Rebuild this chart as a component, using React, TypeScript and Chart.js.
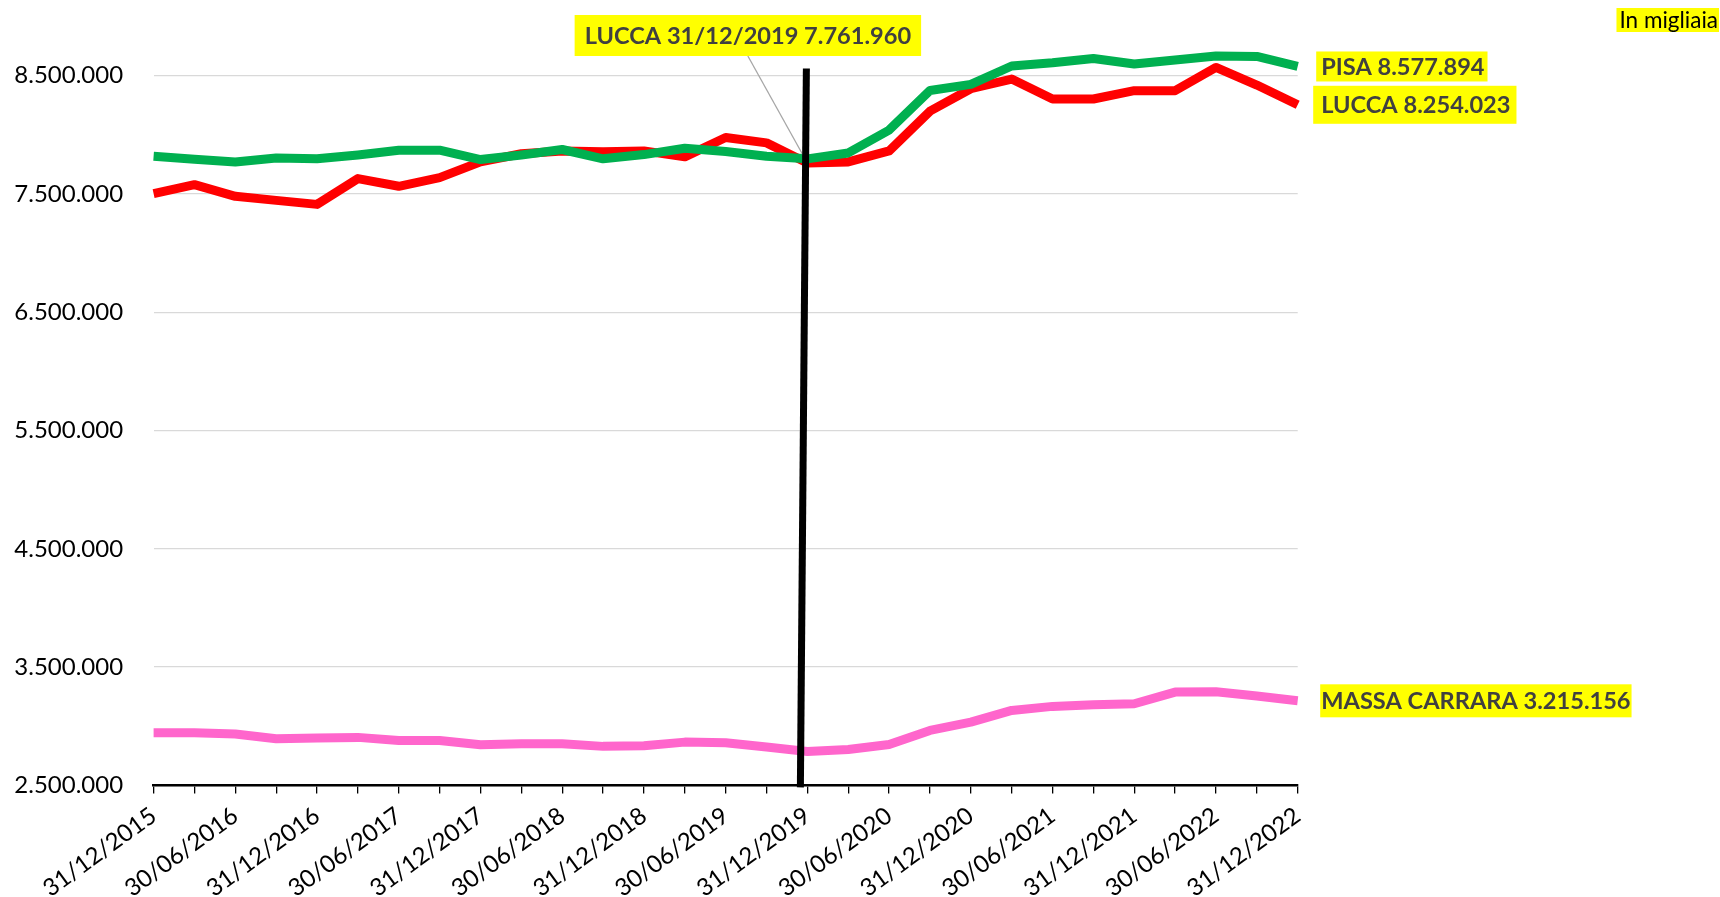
import React, { useEffect, useRef } from 'react';
import { Chart, registerables } from 'chart.js';

Chart.register(...registerables);

// ---------------- DATA ----------------
const categories = [
  '31/12/2015', '31/03/2016', '30/06/2016', '30/09/2016', '31/12/2016',
  '31/03/2017', '30/06/2017', '30/09/2017', '31/12/2017', '31/03/2018',
  '30/06/2018', '30/09/2018', '31/12/2018', '31/03/2019', '30/06/2019',
  '30/09/2019', '31/12/2019', '31/03/2020', '30/06/2020', '30/09/2020',
  '31/12/2020', '31/03/2021', '30/06/2021', '30/09/2021', '31/12/2021',
  '31/03/2022', '30/06/2022', '30/09/2022', '31/12/2022',
];

const pisa = [
  7819000, 7794000, 7771000, 7805000, 7797000, 7830000, 7870000, 7870000,
  7791000, 7830000, 7876000, 7797000, 7833000, 7887000, 7859000, 7819000,
  7797000, 7847000, 8040000, 8375000, 8427000, 8582000, 8610000, 8646000,
  8599000, 8632000, 8666000, 8663000, 8577894,
];

const lucca = [
  7503000, 7579000, 7480000, 7446000, 7412000, 7630000, 7565000, 7638000,
  7771000, 7840000, 7864000, 7856000, 7864000, 7814000, 7977000, 7932000,
  7761960, 7771000, 7864000, 8200000, 8390000, 8472000, 8303000, 8303000,
  8373000, 8373000, 8570000, 8421000, 8254023,
];

const massaCarrara = [
  2945000, 2945000, 2934000, 2894000, 2900000, 2906000, 2880000, 2880000,
  2844000, 2852000, 2852000, 2830000, 2835000, 2866000, 2860000, 2824000,
  2787000, 2804000, 2846000, 2965000, 3035000, 3134000, 3168000, 3182000,
  3190000, 3289000, 3292000, 3255000, 3215156,
];

const seriesNames = ['PISA', 'LUCCA', 'MASSA CARRARA'];
const yTickValues = [2500000, 3500000, 4500000, 5500000, 6500000, 7500000, 8500000];
const Y_MIN = 2500000;
const Y_MAX = 9000000;
const highlightIndex = 16; // 31/12/2019
const markerTopValue = 8560000;
const unitNote = 'In migliaia';

// ---------------- STYLE ----------------
const FONT = "Lato, 'Noto Sans', sans-serif";
const COLORS = { pisa: '#00B050', lucca: '#FF0000', massa: '#FF66CC' };
const LABEL_BG = '#FFFF00';
const LABEL_TEXT = '#404040';
const LABEL_FONT_SIZE = 23.6;

function fmt(v: number): string {
  return Math.round(v).toString().replace(/\B(?=(\d{3})+(?!\d))/g, '.');
}

const endLabelStyles = [
  { padL: 5, padR: 3, h: 30 },
  { padL: 8, padR: 6, h: 38 },
  { padL: 1, padR: 1, h: 33 },
];

const annotationPlugin = {
  id: 'customAnnotations',
  afterDatasetsDraw(chart: any) {
    const ctx: CanvasRenderingContext2D = chart.ctx;
    const xs = chart.scales.x;
    const ys = chart.scales.y;
    ctx.save();

    // Callout for LUCCA at highlight index
    const luccaMeta = chart.getDatasetMeta(1);
    const hp = luccaMeta.data[highlightIndex];
    const calloutText = `LUCCA ${categories[highlightIndex]} ${fmt(lucca[highlightIndex])}`;
    ctx.font = `bold ${LABEL_FONT_SIZE}px ${FONT}`;
    const cw = ctx.measureText(calloutText).width;
    const boxW = cw + 20;
    const boxH = 41;
    const boxCx = hp.x - 59.5;
    const boxBottom = hp.y - 107;
    const boxTop = boxBottom - boxH;

    // leader line
    ctx.strokeStyle = '#A6A6A6';
    ctx.lineWidth = 1.3;
    ctx.beginPath();
    ctx.moveTo(boxCx, boxBottom);
    ctx.lineTo(hp.x, hp.y);
    ctx.stroke();

    ctx.fillStyle = LABEL_BG;
    ctx.fillRect(boxCx - boxW / 2, boxTop, boxW, boxH);
    ctx.fillStyle = LABEL_TEXT;
    ctx.textAlign = 'center';
    ctx.textBaseline = 'middle';
    ctx.fillText(calloutText, boxCx, boxTop + boxH / 2 + 1);

    // black vertical marker line
    const xTop = xs.getPixelForValue(highlightIndex) - 1;
    const yTop = ys.getPixelForValue(markerTopValue);
    const yBot = ys.getPixelForValue(Y_MIN) + 2;
    ctx.strokeStyle = '#000000';
    ctx.lineWidth = 7;
    ctx.lineCap = 'butt';
    ctx.beginPath();
    ctx.moveTo(xTop, yTop);
    ctx.lineTo(xTop - 6, yBot);
    ctx.stroke();

    // End labels
    const allData = [pisa, lucca, massaCarrara];
    ctx.textAlign = 'left';
    for (let i = 0; i < 3; i++) {
      const meta = chart.getDatasetMeta(i);
      const last = meta.data[meta.data.length - 1];
      const data = allData[i];
      const text = `${seriesNames[i]} ${fmt(data[data.length - 1])}`;
      const st = endLabelStyles[i];
      ctx.font = `bold ${LABEL_FONT_SIZE}px ${FONT}`;
      const w = ctx.measureText(text).width;
      const tx = last.x + 23.5;
      ctx.fillStyle = LABEL_BG;
      ctx.fillRect(tx - st.padL, last.y - st.h / 2, w + st.padL + st.padR, st.h);
      ctx.fillStyle = LABEL_TEXT;
      ctx.textBaseline = 'middle';
      ctx.fillText(text, tx, last.y + 1);
    }

    // unit note
    ctx.font = `22.5px ${FONT}`;
    const nw = ctx.measureText(unitNote).width;
    const W = chart.width;
    ctx.fillStyle = LABEL_BG;
    ctx.fillRect(W - 2 - nw - 3, 8, nw + 4, 24);
    ctx.fillStyle = '#000000';
    ctx.textAlign = 'right';
    ctx.textBaseline = 'middle';
    ctx.fillText(unitNote, W - 2, 20.5);

    ctx.restore();
  },
};

export default function App() {
  const canvasRef = useRef<HTMLCanvasElement | null>(null);

  useEffect(() => {
    if (!canvasRef.current) return;
    const lineCommon = {
      borderWidth: 9,
      pointRadius: 0,
      pointHoverRadius: 0,
      tension: 0,
      borderJoinStyle: 'round' as const,
      borderCapStyle: 'butt' as const,
      fill: false,
    };
    const chart = new Chart(canvasRef.current, {
      type: 'line',
      data: {
        labels: categories,
        datasets: [
          { ...lineCommon, label: seriesNames[0], data: pisa, borderColor: COLORS.pisa, backgroundColor: COLORS.pisa },
          { ...lineCommon, label: seriesNames[1], data: lucca, borderColor: COLORS.lucca, backgroundColor: COLORS.lucca },
          { ...lineCommon, label: seriesNames[2], data: massaCarrara, borderColor: COLORS.massa, backgroundColor: COLORS.massa },
        ],
      },
      options: {
        animation: false,
        responsive: false,
        devicePixelRatio: 1,
        layout: { padding: { top: 16.55, right: 422.3, bottom: 0, left: 0 } },
        plugins: {
          legend: { display: false },
          tooltip: { enabled: false },
          title: { display: false },
        },
        scales: {
          x: {
            type: 'category',
            offset: false,
            grid: {
              display: true,
              drawOnChartArea: false,
              drawTicks: true,
              tickLength: 8,
              color: '#000000',
              lineWidth: 1.3,
            },
            border: { display: true, color: '#000000', width: 2.5 },
            ticks: {
              autoSkip: false,
              minRotation: 36,
              maxRotation: 36,
              padding: 8,
              color: '#000000',
              font: { family: FONT, size: 24 },
              callback: (_v: any, index: number) => (index % 2 === 0 ? categories[index] : ''),
            },
            afterFit: (scale: any) => {
              scale.height = 111.6;
              scale.paddingLeft = 0;
              scale.paddingRight = 0;
              scale.paddingTop = 0;
              scale.paddingBottom = 0;
            },
          },
          y: {
            type: 'linear',
            min: Y_MIN,
            max: Y_MAX,
            grid: {
              display: true,
              drawTicks: false,
              color: '#D9D9D9',
              lineWidth: 1.3,
            },
            border: { display: false },
            ticks: {
              padding: 30.5,
              color: '#000000',
              font: { family: FONT, size: 24 },
              callback: (v: any) => fmt(Number(v)),
            },
            afterBuildTicks: (axis: any) => {
              axis.ticks = yTickValues.map((v) => ({ value: v }));
            },
            afterFit: (scale: any) => {
              scale.width = 153.6;
              scale.paddingLeft = 0;
              scale.paddingRight = 0;
              scale.paddingTop = 0;
              scale.paddingBottom = 0;
            },
          },
        },
      },
      plugins: [annotationPlugin],
    });
    return () => {
      chart.destroy();
    };
  }, []);

  return (
    <div style={{ position: 'fixed', left: 0, top: 0, width: 1720, height: 897, background: '#ffffff' }}>
      <canvas ref={canvasRef} width={1720} height={897} style={{ display: 'block' }} />
    </div>
  );
}
